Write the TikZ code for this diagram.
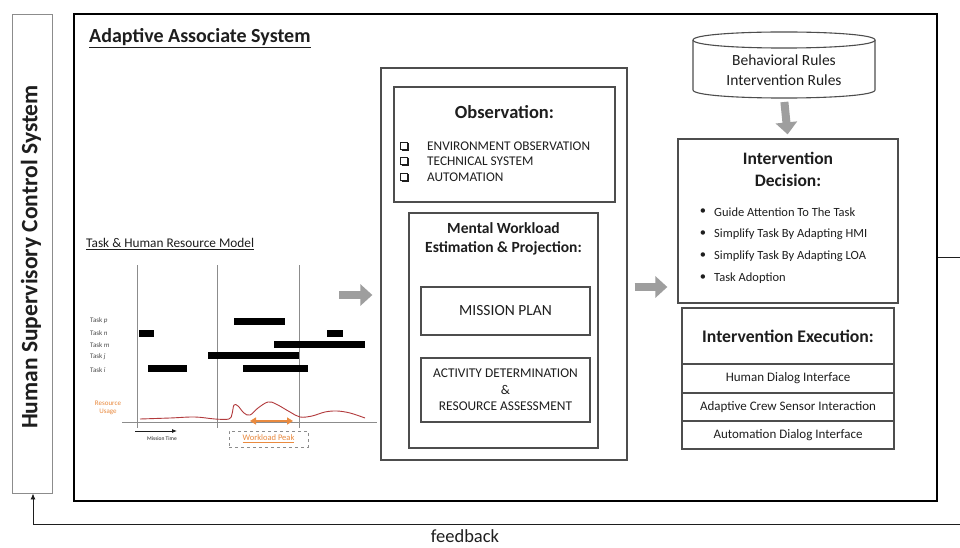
\documentclass[tikz,border=0pt]{standalone}
\usepackage{fontspec}
\setmainfont{Carlito}
\usetikzlibrary{arrows.meta,calc}

\definecolor{ink}{HTML}{1E1E1E}
\definecolor{frame}{HTML}{4D4D4D}
\definecolor{blockgray}{HTML}{9E9E9E}
\definecolor{usage}{HTML}{B23A3C}
\definecolor{peak}{HTML}{E98A3F}
\definecolor{axis}{HTML}{8C8C8C}

\newcommand\fs[2]{\fontsize{#1}{#2}\selectfont}

\begin{document}
\begin{tikzpicture}[x=1pt,y=-1pt,
  txt/.style={text=ink, inner sep=0pt},
  frm/.style={draw=frame, line width=1.3pt, fill=white, inner sep=0pt},
  blockarrow/.style={draw=blockgray, line width=8pt, -{Triangle[length=12pt,width=21pt]}},
  chartline/.style={draw=axis, line width=0.8pt},
  ]
\useasboundingbox (0,0) rectangle (960,548);
\fill[white] (0,0) rectangle (960,548);

% ---------- outer frames ----------
\node[draw=axis, line width=0.9pt, minimum width=40pt, minimum height=479pt, inner sep=0pt] (hsc) at (32,253.5) {};
\node[txt, rotate=90, font=\bfseries\fs{23.5}{26}] (hsctext) at (31,257) {Human Supervisory Control System};

\node[draw=black, line width=2.5pt, minimum width=863pt, minimum height=487pt, inner sep=0pt] (aas) at (505.5,257.5) {};
\node[txt, anchor=west, font=\bfseries\fs{20}{24}] (title) at (89,38) {\underline{Adaptive Associate System}};

% feedback loop
\coordinate (fbcorner) at (33,524);
\draw[ink, line width=0.9pt, -{Latex[length=6pt,width=5pt]}] (aas.east) -- ++(26,0) |- (fbcorner) -- (hsc.south -| fbcorner);
\node[txt, font=\fs{18.5}{20}] (fb) at (465,536) {feedback};

% ---------- task & human resource model ----------
\node[txt, anchor=west, font=\fs{13.3}{16}] (model) at (86,244) {\underline{Task \& Human Resource Model}};

\foreach \x in {137,217,299} \draw[chartline] (\x,265) -- (\x,428);
\draw[chartline] (122,422) -- (377,422);

\foreach \y/\t in {321/p,333/n,345/m,357/j,370/i}
  \node[txt, anchor=west, font=\fs{7}{8}, text=ink!80] at (90,\y) {Task \textit{\t}};

\fill[black] (234,318) rectangle (285,325);
\fill[black] (139,329.5) rectangle (154,336.5);
\fill[black] (327,329.5) rectangle (343,336.5);
\fill[black] (274,341) rectangle (365,348);
\fill[black] (208,352) rectangle (299,359);
\fill[black] (148,364.5) rectangle (187,371.5);
\fill[black] (243,364.5) rectangle (308,371.5);

\node[txt, text=peak, font=\fs{7}{8.5}, align=center] (ru) at (108,408) {Resource\\Usage};
\draw[usage, line width=0.9pt] plot[smooth, tension=0.6] coordinates {
  (140,419) (170,418) (195,417) (215,419) (229,419) (232,414) (234,405)
  (238,406) (244,413) (250,415) (258,408) (268,402) (276,404) (290,412)
  (300,417) (312,416) (325,412) (337,411) (350,413) (365,418)};
\draw[peak, line width=2pt, {Triangle[length=6pt,width=7pt]}-{Triangle[length=6pt,width=7pt]}] (250,421) -- (293,421);

\draw[ink, line width=0.8pt, -{Latex[length=5pt,width=4pt]}] (135,431) -- (177,431);
\node[txt, font=\fs{5.5}{6}] (mt) at (162,439) {Mission Time};

\node[draw=axis, dashed, line width=0.8pt, minimum width=79pt, minimum height=16pt, inner sep=0pt] (wp) at (268.5,439) {};
\node[txt, text=peak, font=\fs{8.5}{9}] at (wp.center) {\underline{Workload Peak}};

% ---------- observation & workload column ----------
\node[frm, minimum width=246pt, minimum height=392pt] (mid) at (504,264) {};

\node[frm, minimum width=221pt, minimum height=115pt] (obs) at (504.5,144.5) {};
\node[txt, font=\bfseries\fs{18.5}{22}] (obstitle) at (504.5,112) {Observation:};
\foreach \y/\t in {146/ENVIRONMENT OBSERVATION,161/TECHNICAL SYSTEM,177/AUTOMATION}{
  \draw[ink, line width=0.9pt] (400,\y-4) rectangle (407.5,\y+3.5);
  \draw[ink, line width=1.4pt] (401.5,\y+4.3) -- (408.3,\y+4.3) -- (408.3,\y-2.5);
  \node[txt, anchor=west, font=\fs{13.3}{15}] at (427,\y) {\t};
}

\node[frm, minimum width=189pt, minimum height=235pt] (mwl) at (503.5,330.5) {};
\node[txt, font=\bfseries\fs{15.5}{19}, align=center] (mwltitle) at (503.5,238.5) {Mental Workload\\Estimation \& Projection:};
\node[frm, minimum width=169pt, minimum height=48pt, font=\fs{15.5}{18}, text=ink] (plan) at (505.5,311) {MISSION PLAN};
\node[frm, minimum width=169pt, minimum height=64pt, font=\fs{13.4}{16.5}, text=ink, align=center] (act) at (505.5,390) {ACTIVITY DETERMINATION\\\&\\RESOURCE ASSESSMENT};

\coordinate (a1) at (339,295);
\draw[blockarrow, shorten >=8pt] (a1) -- (mid.west |- a1);

% ---------- rules & intervention column ----------
\draw[frame, line width=1.1pt, fill=white]
  (693,40) -- (693,90) .. controls (693,100.7) and (875,100.7) .. (875,90) -- (875,40);
\draw[frame, line width=1.1pt, fill=white]
  (693,40) .. controls (693,29.3) and (875,29.3) .. (875,40)
  .. controls (875,50.7) and (693,50.7) .. (693,40);
\node[txt, minimum width=182pt, minimum height=66pt, font=\fs{15.5}{20}, align=center] (rules) at (784,70) {Behavioral Rules\\Intervention Rules};
\coordinate (rulesbase) at (784,98);

\node[frm, minimum width=220pt, minimum height=164pt] (dec) at (788,221) {};
\node[txt, font=\bfseries\fs{17.5}{22}, align=center] (dectitle) at (788,169) {Intervention\\Decision:};
\foreach \y/\t in {212/Guide Attention To The Task,234/Simplify Task By Adapting HMI,256/Simplify Task By Adapting LOA,278/Task Adoption}{
  \node[txt, font=\fs{12.5}{14}] at (703,\y) {•};
  \node[txt, anchor=west, font=\fs{12.5}{14}] at (714,\y) {\t};
}

\draw[blockarrow, shorten <=4pt, shorten >=4pt] (rulesbase) -- (dec.north);

\coordinate (a2) at (630,287);
\draw[blockarrow, shorten <=7pt, shorten >=10pt] (mid.east |- a2) -- (dec.west |- a2);

\node[frm, minimum width=212pt, minimum height=56pt, font=\bfseries\fs{17.7}{20}, text=ink] (exh) at (788,336) {Intervention Execution:};
\node[frm, minimum width=212pt, minimum height=29pt, font=\fs{13}{15}, text=ink] (ex1) at (788,378.5) {Human Dialog Interface};
\node[frm, minimum width=212pt, minimum height=28pt, font=\fs{13}{15}, text=ink] (ex2) at (788,407) {Adaptive Crew Sensor Interaction};
\node[frm, minimum width=212pt, minimum height=28pt, font=\fs{13}{15}, text=ink] (ex3) at (788,435) {Automation Dialog Interface};
\end{tikzpicture}
\end{document}
